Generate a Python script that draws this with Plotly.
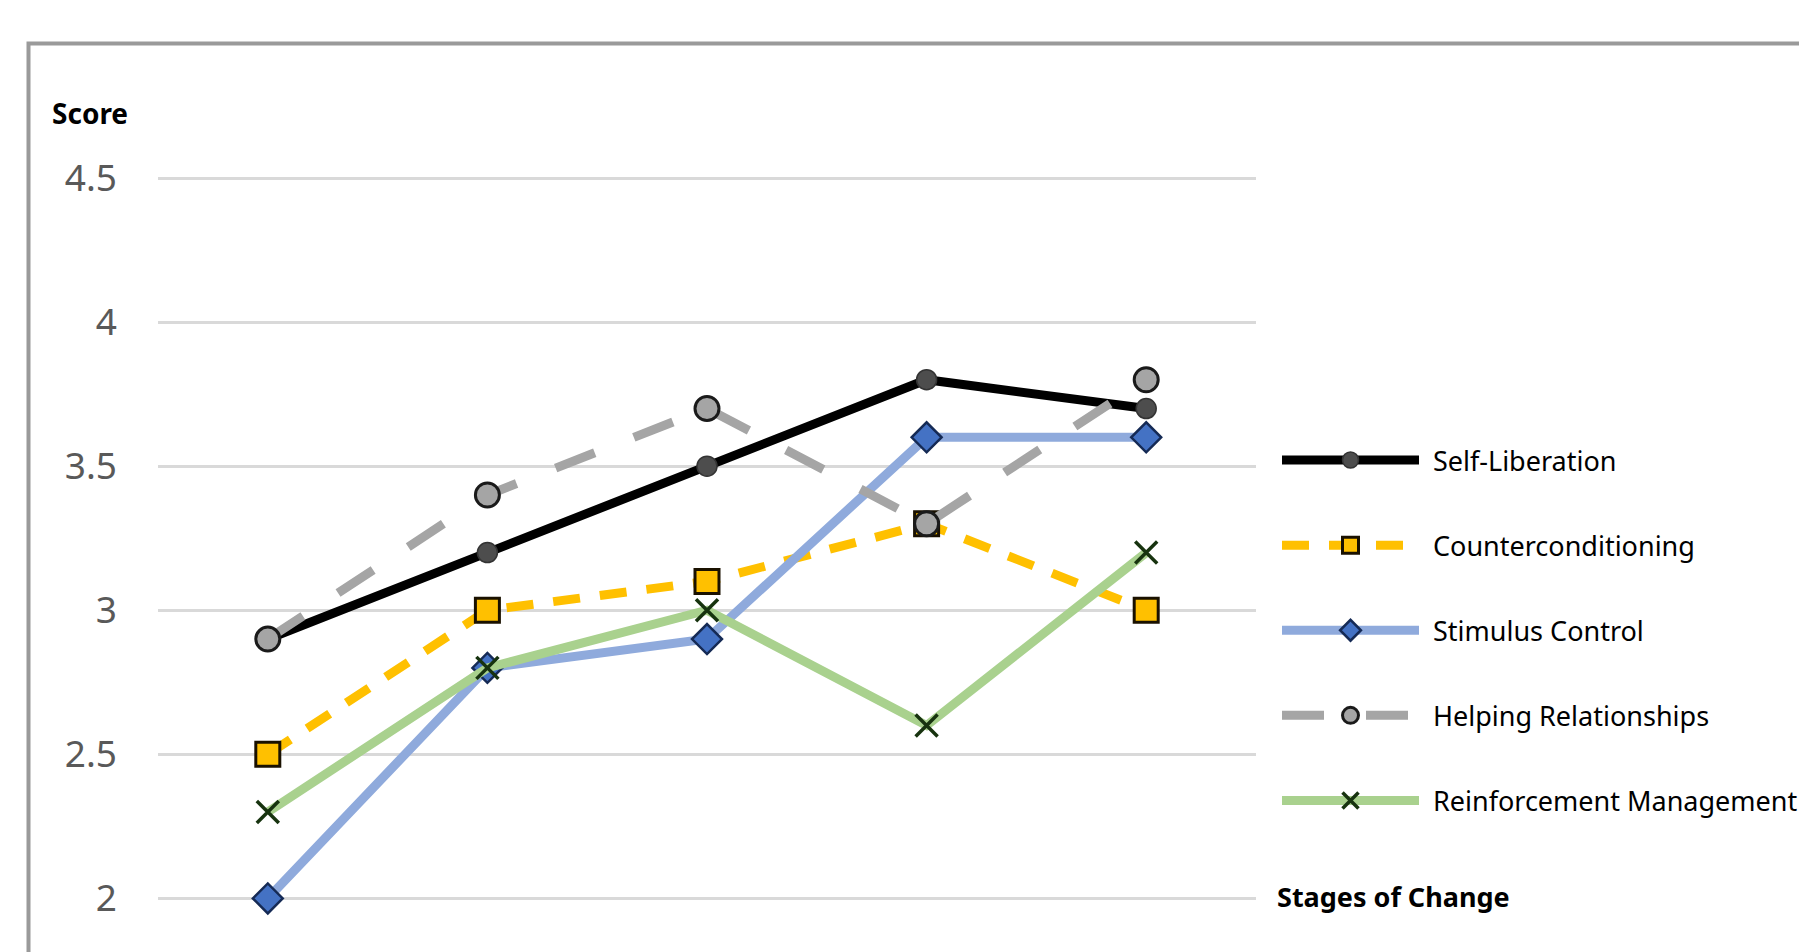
import plotly.graph_objects as go

# Processes of change scores across the five stages
stages = ["Precontemplation", "Contemplation", "Preparation", "Action", "Maintenance"]

self_liberation = [2.9, 3.2, 3.5, 3.8, 3.7]
counterconditioning = [2.5, 3.0, 3.1, 3.3, 3.0]
stimulus_control = [2.0, 2.8, 2.9, 3.6, 3.6]
helping_relationships = [2.9, 3.4, 3.7, 3.3, 3.8]
reinforcement_management = [2.3, 2.8, 3.0, 2.6, 3.2]

y_ticks = [2, 2.5, 3, 3.5, 4, 4.5]
y_tick_text = ["2", "2.5", "3", "3.5", "4", "4.5"]

W, H = 1799, 952
L, R, T, B = 158, 543, 150, 0
plot_w = W - L - R
plot_h = H - T - B


def px_x(px):
    return (px - L) / plot_w


def px_y(py):
    return (H - B - py) / plot_h


# small leading gap between the legend sample and its label
GAP = "\u2004"

series = [
    dict(name="Self-Liberation", y=self_liberation,
         line=dict(color="#000000", width=9),
         marker=dict(symbol="circle", size=20, color="#4d4d4d",
                     line=dict(color="#333333", width=1.5))),
    dict(name="Counterconditioning", y=counterconditioning,
         line=dict(color="#FFC000", width=9, dash="27px,20px"),
         marker=dict(symbol="square", size=24, color="#FFC000",
                     line=dict(color="#1a1100", width=3))),
    dict(name="Stimulus Control", y=stimulus_control,
         line=dict(color="#8FAADC", width=9),
         marker=dict(symbol="diamond", size=23, color="#4472C4",
                     line=dict(color="#152a55", width=2.5))),
    dict(name="Helping Relationships", y=helping_relationships,
         line=dict(color="#A5A5A5", width=9, dash="42px,42px"),
         marker=dict(symbol="circle", size=24, color="#A5A5A5",
                     line=dict(color="#1a1a1a", width=3))),
    dict(name="Reinforcement Management", y=reinforcement_management,
         line=dict(color="#A9D18E", width=9),
         marker=dict(symbol="x-thin", size=22, color="#17330f",
                     line=dict(color="#17330f", width=3.5))),
]

fig = go.Figure()
for i, s in enumerate(series):
    fig.add_trace(go.Scatter(
        x=stages, y=s["y"], name=GAP + s["name"], mode="lines+markers",
        line=s["line"], marker=s["marker"], legendgroup=f"g{i}",
    ))

y_per_px = 0.5 / 144.1
y_lo = 2 - (H - 898.4) * y_per_px
y_hi = 4.5 + (178 - T) * y_per_px

fig.update_layout(
    width=W, height=H,
    margin=dict(l=L, r=R, t=T, b=B, autoexpand=False),
    paper_bgcolor="white", plot_bgcolor="white",
    font=dict(family="Noto Sans", color="#000000"),
    showlegend=True,
    legend=dict(
        x=px_x(1277), y=px_y(436), xanchor="left", yanchor="top",
        font=dict(size=27, family="Noto Sans", color="#000000"),
        itemwidth=137, tracegroupgap=47, traceorder="grouped",
        bgcolor="rgba(0,0,0,0)",
    ),
    xaxis=dict(
        type="category", range=[-0.5, 4.5],
        showgrid=False, zeroline=False, showline=False,
        showticklabels=False, ticks="",
    ),
    yaxis=dict(
        range=[y_lo, y_hi],
        tickvals=y_ticks, ticktext=y_tick_text,
        showgrid=True, gridcolor="#d9d9d9", gridwidth=3,
        zeroline=False, showline=False, ticks="",
        tickfont=dict(size=37, family="Noto Sans", color="#595959"),
        ticklabelstandoff=40,
    ),
    annotations=[
        dict(text="<b>Score</b>", xref="paper", yref="paper",
             x=px_x(50), y=px_y(113.5), xanchor="left", yanchor="middle",
             showarrow=False, font=dict(size=28, family="Noto Sans", color="#000000")),
        dict(text="<b>Stages of Change</b>", xref="paper", yref="paper",
             x=px_x(1275), y=px_y(896.5), xanchor="left", yanchor="middle",
             showarrow=False, font=dict(size=27, family="Noto Sans", color="#000000")),
    ],
    shapes=[
        dict(type="rect", xref="paper", yref="paper", layer="above",
             x0=px_x(28.5), x1=px_x(W + 50), y0=px_y(H + 50), y1=px_y(43.5),
             line=dict(color="#9a9a9a", width=4), fillcolor="rgba(0,0,0,0)"),
    ],
)

fig.write_html("out.html")
